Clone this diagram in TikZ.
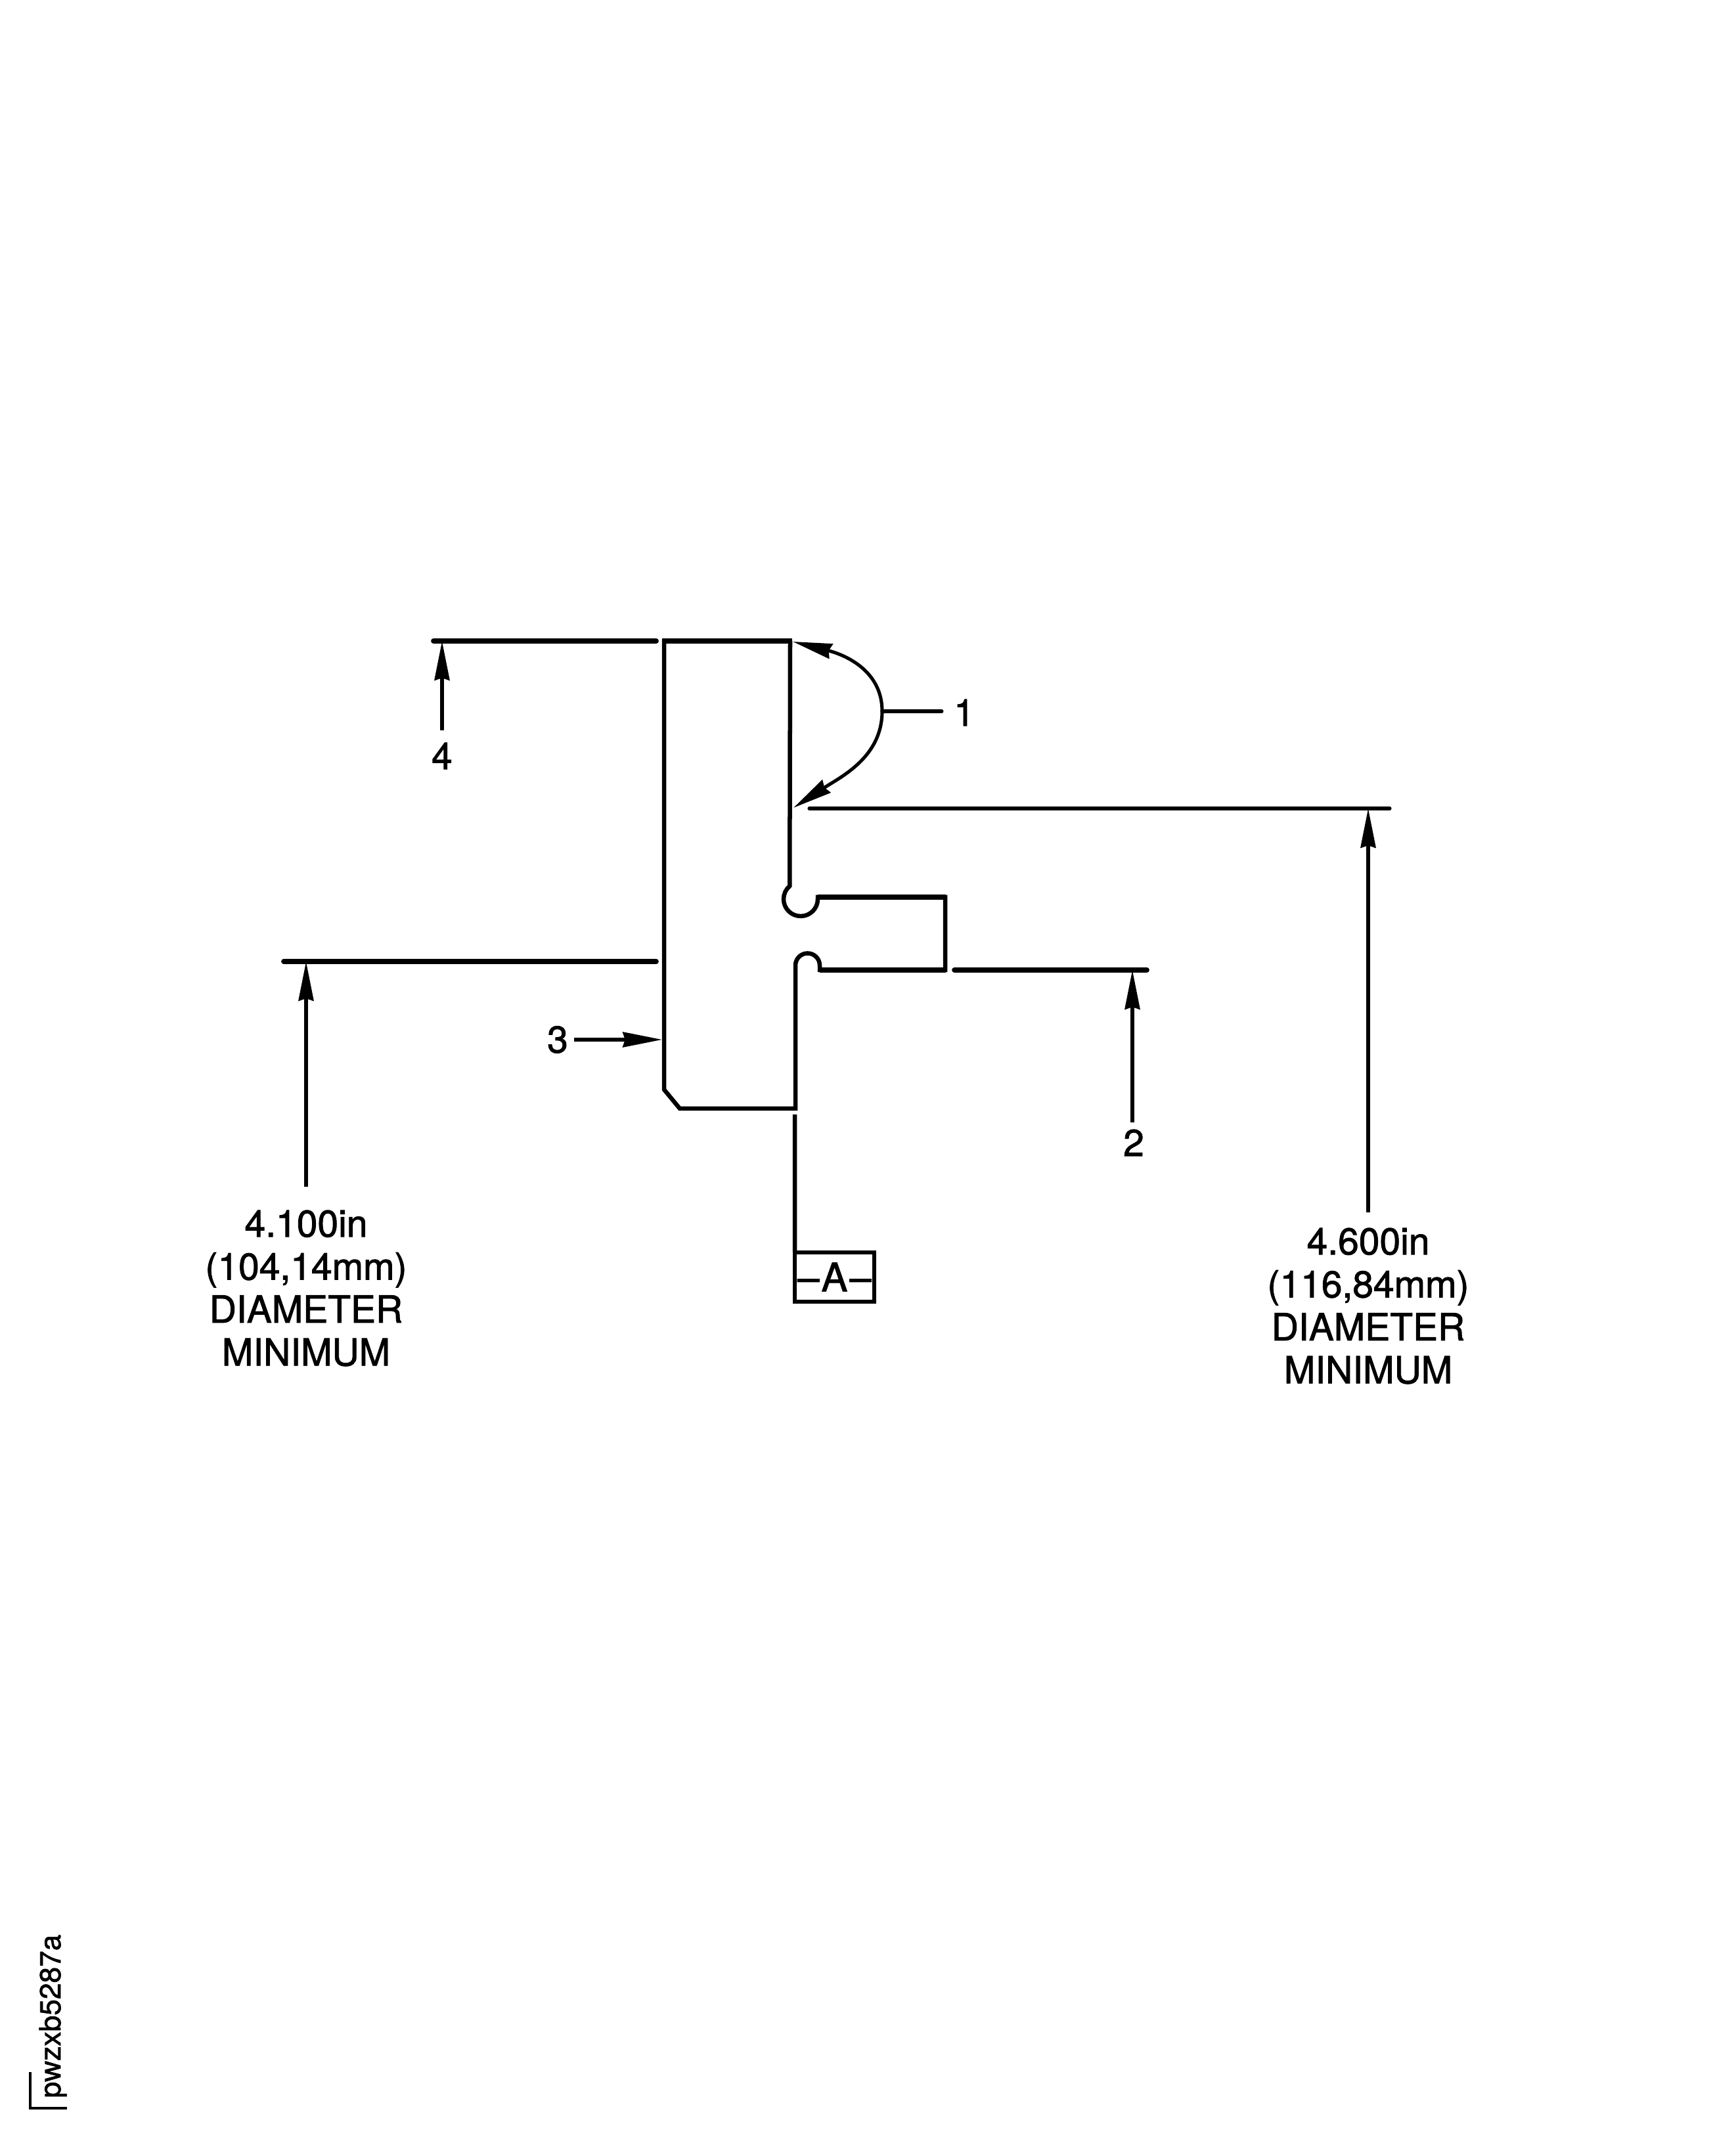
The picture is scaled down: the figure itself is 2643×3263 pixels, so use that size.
\documentclass[tikz,border=0pt]{standalone}
\usepackage{fontspec}
\setmainfont{TeX Gyre Heros}[FakeBold=1.5]
\usetikzlibrary{arrows.meta}
\begin{document}
\begin{tikzpicture}[x=0.01cm, y=0.01cm]

        % Define custom styles
        \tikzset{
          outline/.style={line width=1.85pt, line join=miter},
          heavyline/.style={line width=2.2pt, line cap=round},
          thinline/.style={line width=1.45pt, line cap=round},
          dimarrow/.style={line width=1.45pt, -{Stealth[length=17pt, width=6.5pt, inset=1pt]}},
          mylabel/.style={font=\fontsize{16.2pt}{18.6pt}\selectfont, align=center, inner sep=0pt}
        }

        \useasboundingbox (0,0) rectangle (2643,3263);

        % Part outline
        \draw[outline] (1203,2287) -- (1011,2287) -- (1011,1604) -- (1035,1575) -- (1211,1575)
          -- (1211,1793) arc[start angle=180, end angle=0, radius=18.5]
          -- (1248,1786) -- (1439,1786) -- (1439,1897) -- (1245,1897) -- (1245,1894)
          arc[start angle=360, end angle=130, radius=26] -- (1203,2287);
        \draw[heavyline, line cap=butt] (1008,2287) -- (1206,2287);
        \draw[heavyline, line cap=butt] (1245,1897) -- (1440,1897);
        \draw[heavyline, line cap=butt] (1248,1786) -- (1440,1786);

        % Extension lines
        \draw[heavyline] (660,2287) -- (999,2287);
        \draw[heavyline] (432,1799) -- (999,1799);
        \draw[heavyline] (1453,1786) -- (1746,1786);
        \draw[thinline] (1232,2032) -- (2116,2032);

        % Points the arrows go to
        \coordinate (top) at (673,2287);
        \coordinate (left) at (466,1799);
        \coordinate (tab) at (1724,1786);
        \coordinate (right) at (2083,2032);
        \coordinate (wall) at (1008,1680);
        \coordinate (apex) at (1343,2180);
        \coordinate (corner1) at (1207,2286);
        \coordinate (corner2) at (1208,2033);
        \coordinate (datumtop) at (1210,1566);

        % Labels
        \node[mylabel] (1) at (1468,2178) {1};
        \node[mylabel] (2) at (1726,1523) {2};
        \node[mylabel] (3) at (849,1680) {3};
        \node[mylabel] (4) at (673,2112) {4};
        \node[mylabel, anchor=north] (dia1) at (466,1421) {4.100in\\(104,14mm)\\DIAMETER\\MINIMUM};
        \node[mylabel, anchor=north] (dia2) at (2083,1394) {4.600in\\(116,84mm)\\DIAMETER\\MINIMUM};
        \node[draw, line width=1.85pt, minimum width=34.4pt, minimum height=21.3pt, inner sep=0pt, outer sep=0pt,
              font=\fontsize{17pt}{19pt}\selectfont] (datum) at (1270.5,1318.5) {–\kern0.9pt A\kern0.9pt –};
        \node[font=\fontsize{12.6pt}{15pt}\selectfont, inner sep=0pt, anchor=base, rotate=90] (code) at (92,193) {pwzxb5287a};

        % Leaders and arrows
        \draw[dimarrow] (apex) .. controls (1343,2240) and (1290,2265) .. (corner1);
        \draw[dimarrow] (apex) .. controls (1343,2110) and (1280,2080) .. (corner2);
        \draw[thinline, shorten >=5pt] (apex) -- (apex -| 1.west);
        \draw[dimarrow, shorten <=5pt] (4) -- (top);
        \draw[dimarrow, shorten <=3pt] (tab |- 2.north) -- (tab);
        \draw[dimarrow, shorten <=2.5pt] (3) -- (wall);
        \draw[dimarrow, shorten <=10pt] (dia1) -- (left);
        \draw[dimarrow, shorten <=6.6pt] (dia2) -- (right);
        \draw[outline] (datumtop) -- (datum.north west);

        % Corner mark
        \coordinate (mark) at (46,53);
        \draw[line width=1.1pt] (46,108) -- (mark) -- (102,53);

\end{tikzpicture}
\end{document}
